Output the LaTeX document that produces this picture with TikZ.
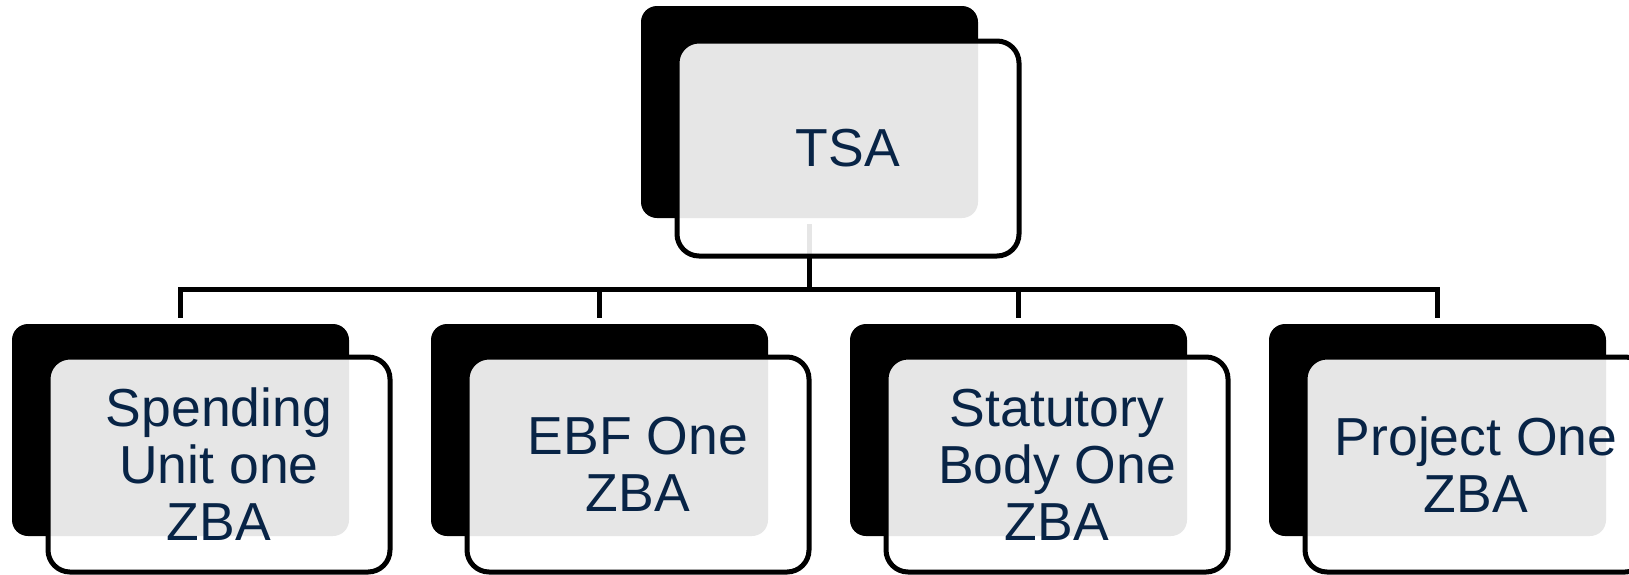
\documentclass[tikz,border=0pt]{standalone}
\usepackage{fontspec}
\setmainfont{Liberation Sans}
\pgfdeclarelayer{bg}
\pgfsetlayers{bg,main}
\definecolor{navy}{RGB}{8,36,70}
\begin{document}
\begin{tikzpicture}[x=1pt,y=-1pt,
  back/.style={fill=black, rounded corners=16pt, minimum width=337pt,
    minimum height=212pt, inner sep=0pt},
  front/.style={draw=black, line width=5pt, fill=white, fill opacity=0.9,
    text opacity=1, rounded corners=22pt, minimum width=342pt,
    minimum height=215pt, inner sep=0pt, text=navy, align=center,
    font=\fontsize{53.5}{57}\selectfont},
  conn/.style={draw=black, line width=5pt}]
\useasboundingbox (0,0) rectangle (1629,574);

% root
\node[back] (tsaback) at (809.5,112) {};
\node[front, font=\fontsize{53.5}{60}\selectfont] (tsa) at (848,148.5) {TSA};

% children
\node[back] (c1back) at (180.5,430) {};
\node[front] (c1) at (219,464.5) {Spending\\Unit one\\ZBA};
\node[back] (c2back) at (599.5,430) {};
\node[front] (c2) at (638,464.5) {EBF One\\ZBA};
\node[back] (c3back) at (1018.5,430) {};
\node[front] (c3) at (1057,464.5) {Statutory\\Body One\\ZBA};
\node[back] (c4back) at (1437.5,430) {};
\node[front] (c4) at (1476,464.5) {Project One\\ZBA};

% connectors, kept beneath the boxes
\coordinate (bus) at (0,289);
\begin{pgfonlayer}{bg}
\draw[conn] ([yshift=-6pt]tsaback.south) -- (tsaback.south |- bus);
\draw[conn] ([yshift=6pt]c1back.north) |- (c4back.north |- bus)
  -- ([yshift=6pt]c4back.north);
\draw[conn] ([yshift=6pt]c2back.north) -- (c2back.north |- bus);
\draw[conn] ([yshift=6pt]c3back.north) -- (c3back.north |- bus);
\end{pgfonlayer}
\end{tikzpicture}
\end{document}
